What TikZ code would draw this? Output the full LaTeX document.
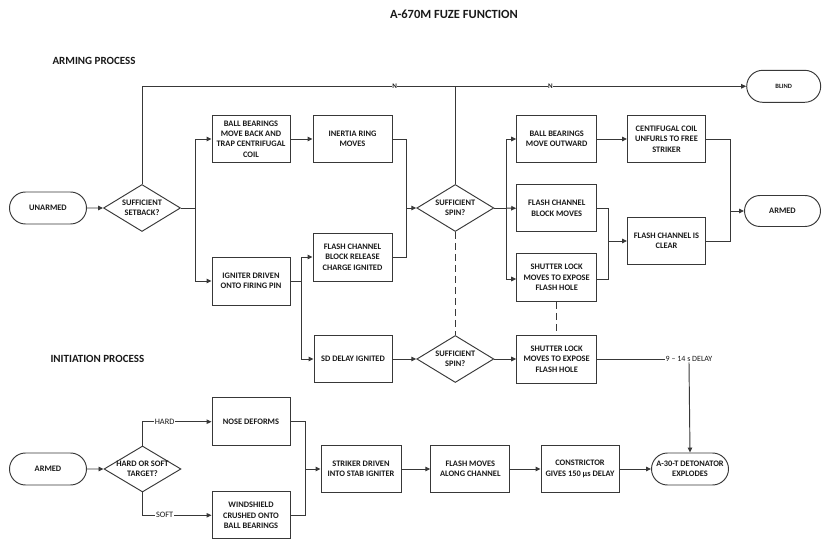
\documentclass[tikz,border=0pt]{standalone}
\usepackage{fontspec}
\setmainfont{Carlito}
\usetikzlibrary{shapes.geometric,shapes.misc,arrows.meta}
\begin{document}
\begin{tikzpicture}[x=1pt,y=-1pt,
  line/.style={draw=black!78,line width=0.95pt},
  arr/.style={line,-{Triangle[length=5pt,width=4.5pt]}},
  dashline/.style={line,dash pattern=on 7pt off 4pt},
  boxtext/.style={font=\fontsize{8.4}{10.4}\selectfont\bfseries,text=black!90,align=center},
  procbox/.style={boxtext,rectangle,line,minimum width=79pt,minimum height=47pt,inner sep=1pt},
  term/.style={boxtext,rounded rectangle,line,minimum width=79pt,minimum height=32pt,inner sep=1pt},
  decision/.style={diamond,line,minimum width=77pt,minimum height=47pt,inner sep=0pt},
  dtext/.style={boxtext},
  heading/.style={font=\fontsize{11}{13}\selectfont\bfseries,text=black!90,anchor=west},
  lbl/.style={font=\fontsize{8.3}{10}\selectfont,text=black!90,fill=white,inner sep=0.6pt},
  smalllbl/.style={font=\fontsize{7}{8}\selectfont\bfseries,text=black!90,fill=white,inner sep=0.6pt}
]
\useasboundingbox (0,0) rectangle (823,540);

% titles
\node[font=\fontsize{12.5}{14}\selectfont\bfseries,text=black!90] (title) at (454,14) {A-670M FUZE FUNCTION};
\node[heading] (armhead) at (49,61) {ARMING PROCESS};
\node[heading] (inithead) at (47,359) {INITIATION PROCESS};

% arming process
\node[term] (unarmed) at (48,208) {UNARMED};
\node[decision,label={[dtext]center:SUFFICIENT\\SETBACK?}] (d1) at (142,208) {};
\node[procbox,minimum width=78pt] (b1) at (251,139) {BALL BEARINGS\\MOVE BACK AND\\TRAP CENTRIFUGAL\\COIL};
\node[procbox] (b2) at (352.5,139) {INERTIA RING\\MOVES};
\node[procbox,minimum height=48pt] (b3) at (352.5,257) {FLASH CHANNEL\\BLOCK RELEASE\\CHARGE IGNITED};
\node[procbox,minimum width=78pt,minimum height=48pt] (b4) at (251,281) {IGNITER DRIVEN\\ONTO FIRING PIN};
\node[procbox,minimum width=78pt] (b5) at (353,359) {SD DELAY IGNITED};
\node[decision,label={[dtext]center:SUFFICIENT\\SPIN?}] (d2) at (455.3,208) {};
\node[decision,label={[dtext]center:SUFFICIENT\\SPIN?}] (d3) at (455.3,359) {};
\node[procbox,minimum width=80pt] (c1) at (556.7,139) {BALL BEARINGS\\MOVE OUTWARD};
\node[procbox,minimum width=80pt] (c2) at (556.7,208.3) {FLASH CHANNEL\\BLOCK MOVES};
\node[procbox,minimum width=80pt,minimum height=48pt] (c3) at (556.7,277.5) {SHUTTER LOCK\\MOVES TO EXPOSE\\FLASH HOLE};
\node[procbox,minimum width=80pt,minimum height=48pt] (c6) at (556.7,359) {SHUTTER LOCK\\MOVES TO EXPOSE\\FLASH HOLE};
\node[procbox,minimum width=78pt] (c4) at (666.5,139) {CENTIFUGAL COIL\\UNFURLS TO FREE\\STRIKER};
\node[procbox,minimum width=78pt] (c5) at (666.5,241) {FLASH CHANNEL IS\\CLEAR};
\node[term,minimum width=78pt,minimum height=31pt] (armed) at (782.5,211) {ARMED};
\node[term,minimum width=76pt,font=\fontsize{6.5}{7}\selectfont\bfseries] (blind) at (783.7,86.3) {BLIND};
\node[font=\fontsize{8}{10}\selectfont,text=black!90,inner sep=0.5pt] (delay) at (689,359) {9 – 14 s DELAY};

\coordinate (j1) at (195,208);
\coordinate (j2) at (406,208);
\coordinate (j3) at (301.7,281);
\coordinate (j4) at (506,208);
\coordinate (j5) at (608.3,241);
\coordinate (j6) at (730,211);
\coordinate (jt) at (455.3,86);

\draw[arr] (unarmed) -- (d1);
\draw[line] (d1.east) -- (j1);
\draw[arr] (j1) |- (b1.west);
\draw[arr] (j1) |- (b4.west);
\draw[arr] (b1) -- (b2);
\draw[line] (b2.east) -| (j2);
\draw[line] (b3.east) -| (j2);
\draw[arr] (j2) -- (d2.west);
\draw[line] (b4.east) -- (j3);
\draw[arr] (j3) |- (b3.west);
\draw[arr] (j3) |- (b5.west);
\draw[arr] (d1.north) |- (blind.west)
  node[smalllbl,pos=0.709] (n1) {N}
  node[smalllbl,pos=0.838] (n2) {N};
\draw[line] (d2.north) -- (jt);
\draw[line] (d2.east) -- (j4);
\draw[arr] (j4) |- (c1.west);
\draw[arr] (j4) -- (c2.west);
\draw[arr] (j4) |- ([yshift=-1.5pt]c3.west);
\draw[arr] (c1) -- (c4);
\draw[line] (c2.east) -| (j5);
\draw[line] ([yshift=-1.5pt]c3.east) -| (j5);
\draw[arr] (j5) -- (c5.west |- j5);
\draw[line] (c4.east) -| (j6);
\draw[line] (c5.east) -| (j6);
\draw[arr] (j6) -- (armed.west);
\draw[dashline] (d2.south) -- (d3.north);
\draw[dashline] (c3.south) -- (c6.north);
\draw[arr] (b5) -- (d3);
\draw[arr] (d3) -- (c6);
\draw[line] (c6.east) -- (delay.west);

% initiation process
\node[term] (armed2) at (48,469) {ARMED};
\node[decision,minimum height=46pt,label={[dtext]center:HARD OR SOFT\\TARGET?}] (d4) at (142.5,469) {};
\node[procbox,minimum width=78pt,minimum height=48pt] (e1) at (251,421.7) {NOSE DEFORMS};
\node[procbox,minimum width=78pt] (e2) at (251,515.3) {WINDSHIELD\\CRUSHED ONTO\\BALL BEARINGS};
\node[procbox,minimum width=80pt] (e3) at (361,469) {STRIKER DRIVEN\\INTO STAB IGNITER};
\node[procbox] (e4) at (470.3,469) {FLASH MOVES\\ALONG CHANNEL};
\node[procbox,minimum width=78pt] (e5) at (580,469) {CONSTRICTOR\\GIVES 150 µs DELAY};
\node[term] (det) at (690,469) {A-30-T DETONATOR\\EXPLODES};
\coordinate (j7) at (305,469);

\draw[arr] (armed2) -- (d4);
\draw[arr] (d4.north) |- (e1.west) node[lbl,pos=0.66] (hard) {HARD};
\draw[arr] (d4.south) |- (e2.west) node[lbl,pos=0.66] (soft) {SOFT};
\draw[line] (e1.east) -| (j7);
\draw[line] (e2.east) -| (j7);
\draw[arr] (j7) -- (e3.west);
\draw[arr] (e3) -- (e4);
\draw[arr] (e4) -- (e5);
\draw[arr] (e5) -- (det);
\draw[arr] (delay.south) -- (det.north);
\end{tikzpicture}
\end{document}
